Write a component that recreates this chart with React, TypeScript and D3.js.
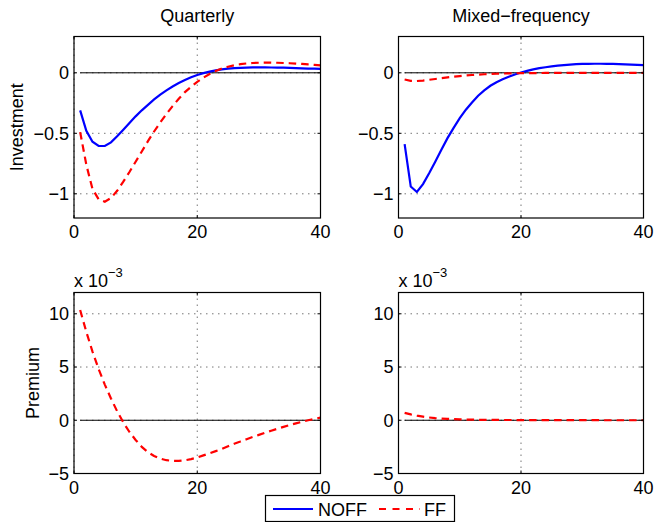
import React, { useEffect, useRef } from "react";
import * as d3 from "d3";

// horizon (quarters)
const steps = d3.range(1, 41);

// Investment responses
const qInvNoff = [-0.31, -0.48, -0.57, -0.605, -0.605, -0.575, -0.525, -0.47, -0.415, -0.36,
  -0.31, -0.265, -0.22, -0.18, -0.145, -0.113, -0.085, -0.06, -0.037, -0.018,
  -0.003, 0.01, 0.02, 0.028, 0.034, 0.038, 0.041, 0.043, 0.045, 0.045,
  0.045, 0.044, 0.043, 0.042, 0.04, 0.039, 0.037, 0.035, 0.034, 0.032];
const qInvFf = [-0.49, -0.76, -0.96, -1.045, -1.065, -1.035, -0.975, -0.9, -0.82, -0.735,
  -0.65, -0.565, -0.485, -0.41, -0.34, -0.275, -0.215, -0.16, -0.115, -0.075,
  -0.04, -0.01, 0.015, 0.035, 0.05, 0.062, 0.071, 0.077, 0.081, 0.083,
  0.084, 0.084, 0.083, 0.081, 0.079, 0.076, 0.073, 0.069, 0.065, 0.061];
const mInvNoff = [-0.59, -0.94, -0.985, -0.92, -0.83, -0.735, -0.635, -0.54, -0.455, -0.375,
  -0.305, -0.245, -0.19, -0.145, -0.107, -0.078, -0.054, -0.033, -0.014, 0.002,
  0.016, 0.028, 0.038, 0.046, 0.053, 0.059, 0.064, 0.068, 0.071, 0.073,
  0.074, 0.075, 0.075, 0.074, 0.073, 0.072, 0.07, 0.068, 0.066, 0.064];
const mInvFf = [-0.055, -0.067, -0.068, -0.064, -0.058, -0.051, -0.044, -0.038, -0.032, -0.027,
  -0.022, -0.018, -0.015, -0.012, -0.01, -0.008, -0.006, -0.005, -0.004, -0.003,
  -0.002, -0.002, -0.002, -0.001, -0.001, -0.001, -0.001, 0, 0, 0,
  0, 0, 0, 0, 0, 0, 0, 0, 0, 0];

// Premium responses (x 10^-3), only FF shown
const qPremFf = [10.35, 8.3, 6.45, 4.8, 3.35, 2.05, 0.85, -0.2, -1.1, -1.85,
  -2.5, -3.0, -3.35, -3.6, -3.75, -3.82, -3.82, -3.76, -3.65, -3.5,
  -3.3, -3.1, -2.9, -2.7, -2.45, -2.2, -2.0, -1.78, -1.57, -1.37,
  -1.17, -0.98, -0.8, -0.62, -0.45, -0.29, -0.14, 0.0, 0.13, 0.25];
const mPremFf = [0.7, 0.55, 0.43, 0.34, 0.26, 0.2, 0.16, 0.13, 0.1, 0.08,
  0.065, 0.055, 0.045, 0.04, 0.035, 0.03, 0.027, 0.024, 0.021, 0.019,
  0.017, 0.015, 0.013, 0.012, 0.011, 0.01, 0.009, 0.008, 0.007, 0.006,
  0.005, 0.005, 0.004, 0.003, 0.003, 0.002, 0.002, 0.001, 0.001, 0];

const xTicks = [0, 20, 40];
const invTicks = [-1, -0.5, 0];
const premTicks = [-5, 0, 5, 10];
const invTickLabels = ["\u22121", "\u22120.5", "0"];
const premTickLabels = ["\u22125", "0", "5", "10"];

const FONT = "'Liberation Sans', Arial, Helvetica, sans-serif";
const FS = "18px";

export default function App() {
  const ref = useRef<SVGSVGElement>(null);

  useEffect(() => {
    const svg = d3.select(ref.current);
    svg.selectAll("*").remove();

    const panels = [
      { x0: 74, x1: 320.5, y0: 36.5, y1: 218, dom: [-1.2, 0.3], ticks: invTicks, labels: invTickLabels,
        noff: qInvNoff, ff: qInvFf, title: "Quarterly", ylab: "Investment", ylabX: 23, exp: false },
      { x0: 398.5, x1: 643.5, y0: 36.5, y1: 218, dom: [-1.2, 0.3], ticks: invTicks, labels: invTickLabels,
        noff: mInvNoff, ff: mInvFf, title: "Mixed\u2212frequency", ylab: "", ylabX: 0, exp: false },
      { x0: 74, x1: 320.5, y0: 292.5, y1: 473.5, dom: [-5, 12], ticks: premTicks, labels: premTickLabels,
        noff: null, ff: qPremFf, title: "", ylab: "Premium", ylabX: 39, exp: true },
      { x0: 398.5, x1: 643.5, y0: 292.5, y1: 473.5, dom: [-5, 12], ticks: premTicks, labels: premTickLabels,
        noff: null, ff: mPremFf, title: "", ylab: "", ylabX: 0, exp: true },
    ];

    panels.forEach(function (p) {
      const x = d3.scaleLinear().domain([0, 40]).range([p.x0, p.x1]);
      const y = d3.scaleLinear().domain(p.dom).range([p.y1, p.y0]);
      const g = svg.append("g");

      g.append("rect").attr("x", p.x0).attr("y", p.y0)
        .attr("width", p.x1 - p.x0).attr("height", p.y1 - p.y0).attr("fill", "white");

      // dotted grid
      p.ticks.forEach(function (t) {
        g.append("line").attr("x1", p.x0).attr("x2", p.x1).attr("y1", y(t)).attr("y2", y(t))
          .attr("stroke", "#777").attr("stroke-width", 1).attr("stroke-dasharray", "1.5,4.5");
      });
      xTicks.forEach(function (t) {
        g.append("line").attr("x1", x(t)).attr("x2", x(t)).attr("y1", p.y0).attr("y2", p.y1)
          .attr("stroke", "#777").attr("stroke-width", 1).attr("stroke-dasharray", "1.5,4.5");
      });

      // zero reference line
      g.append("line").attr("x1", x(1)).attr("x2", x(40)).attr("y1", y(0)).attr("y2", y(0))
        .attr("stroke", "black").attr("stroke-width", 1);

      const line = d3.line<number>().x((d, i) => x(steps[i])).y(d => y(d));
      if (p.noff) {
        g.append("path").attr("d", line(p.noff)).attr("fill", "none")
          .attr("stroke", "#0000ff").attr("stroke-width", 2.2);
      }
      g.append("path").attr("d", line(p.ff)).attr("fill", "none")
        .attr("stroke", "#ff0000").attr("stroke-width", 2.2).attr("stroke-dasharray", "7.5,5");

      // box
      g.append("rect").attr("x", p.x0).attr("y", p.y0)
        .attr("width", p.x1 - p.x0).attr("height", p.y1 - p.y0)
        .attr("fill", "none").attr("stroke", "black").attr("stroke-width", 1.2);

      // inward ticks
      xTicks.forEach(function (t) {
        g.append("line").attr("x1", x(t)).attr("x2", x(t)).attr("y1", p.y1).attr("y2", p.y1 - 3).attr("stroke", "black");
        g.append("line").attr("x1", x(t)).attr("x2", x(t)).attr("y1", p.y0).attr("y2", p.y0 + 3).attr("stroke", "black");
        g.append("text").attr("x", x(t)).attr("y", p.y1 + 20).attr("text-anchor", "middle")
          .style("font-family", FONT).style("font-size", FS).text(String(t));
      });
      p.ticks.forEach(function (t, i) {
        g.append("line").attr("x1", p.x0).attr("x2", p.x0 + 3).attr("y1", y(t)).attr("y2", y(t)).attr("stroke", "black");
        g.append("line").attr("x1", p.x1).attr("x2", p.x1 - 3).attr("y1", y(t)).attr("y2", y(t)).attr("stroke", "black");
        g.append("text").attr("x", p.x0 - 5).attr("y", y(t)).attr("dy", "0.35em").attr("text-anchor", "end")
          .style("font-family", FONT).style("font-size", FS).text(p.labels[i]);
      });

      if (p.title) {
        g.append("text").attr("x", (p.x0 + p.x1) / 2).attr("y", 22).attr("text-anchor", "middle")
          .style("font-family", FONT).style("font-size", FS).text(p.title);
      }
      if (p.ylab) {
        g.append("text")
          .attr("transform", "translate(" + p.ylabX + "," + (p.y0 + p.y1) / 2 + ") rotate(-90)")
          .attr("text-anchor", "middle")
          .style("font-family", FONT).style("font-size", FS).text(p.ylab);
      }
      if (p.exp) {
        const t = g.append("text").attr("x", p.x0).attr("y", p.y0 - 6)
          .style("font-family", FONT).style("font-size", FS);
        t.append("tspan").text("x 10");
        t.append("tspan").attr("dy", -10).style("font-size", "13px").text("\u22123");
      }
    });

    // legend
    const lg = svg.append("g");
    lg.append("rect").attr("x", 265.5).attr("y", 495.5).attr("width", 189).attr("height", 26)
      .attr("fill", "white").attr("stroke", "black").attr("stroke-width", 1.2);
    lg.append("line").attr("x1", 273).attr("x2", 313).attr("y1", 509).attr("y2", 509)
      .attr("stroke", "#0000ff").attr("stroke-width", 2.2);
    lg.append("text").attr("x", 318).attr("y", 515.5)
      .style("font-family", FONT).style("font-size", FS).text("NOFF");
    lg.append("line").attr("x1", 379).attr("x2", 420).attr("y1", 509).attr("y2", 509)
      .attr("stroke", "#ff0000").attr("stroke-width", 2.2).attr("stroke-dasharray", "7,6.5");
    lg.append("text").attr("x", 424).attr("y", 515.5)
      .style("font-family", FONT).style("font-size", FS).text("FF");
  }, []);

  return (
    <svg ref={ref} width={656} height={522}
      style={{ position: "absolute", left: 0, top: 0, background: "white" }} />
  );
}
